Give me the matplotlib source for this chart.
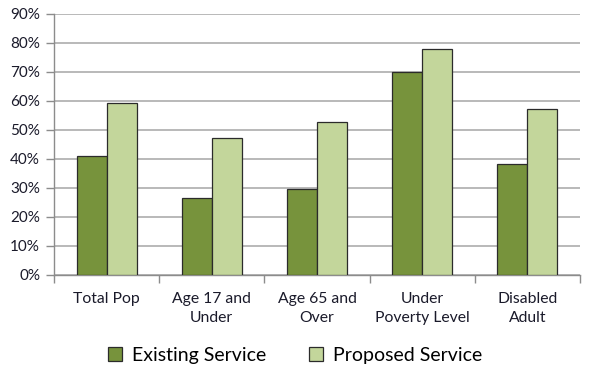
import matplotlib
matplotlib.use("Agg")
import matplotlib.pyplot as plt
import numpy as np
from matplotlib.ticker import FuncFormatter, FixedLocator

categories = ["Total Pop", "Age 17 and\nUnder", "Age 65 and\nOver", "Under\nPoverty Level", "Disabled\nAdult"]
existing = [41.1, 26.6, 29.7, 69.9, 38.3]
proposed = [59.4, 47.2, 52.7, 78.0, 57.2]
series_names = ["Existing Service", "Proposed Service"]

plt.rcParams['font.family'] = ['Lato', 'DejaVu Sans']

fig = plt.figure(figsize=(5.9, 3.75), dpi=100)
ax = fig.add_axes([0.0915, 0.2667, 0.8915, 0.6968])

x = np.arange(len(categories))
w = 0.285
ax.bar(x - w/2, existing, w, color="#77933C", edgecolor="#2b2b2b", linewidth=0.9,
       label=series_names[0], zorder=3)
ax.bar(x + w/2, proposed, w, color="#C3D69B", edgecolor="#2b2b2b", linewidth=0.9,
       label=series_names[1], zorder=3)

ax.set_xlim(-0.5, len(categories) - 0.5)
ax.set_ylim(0, 90)
ax.set_yticks(np.arange(0, 91, 10))
ax.yaxis.set_major_formatter(FuncFormatter(lambda v, p: f"{int(v)}%"))
ax.grid(axis='y', color="#a6a6a6", linewidth=1.1, zorder=0)
ax.set_axisbelow(True)

ax.set_xticks(x)
ax.set_xticklabels(categories, fontsize=11.3, color="#1a1a2a", linespacing=1.45)
ax.xaxis.set_minor_locator(FixedLocator(np.arange(-0.5, len(categories), 1)))
ax.tick_params(axis='x', which='major', length=0, pad=12)
ax.tick_params(axis='x', which='minor', length=6, color="#8c8c8c", width=1)
ax.tick_params(axis='y', length=6, color="#8c8c8c", width=1, labelsize=11,
               labelcolor="#1a1a2a", pad=4)

for s in ['top', 'right']:
    ax.spines[s].set_visible(False)
for s in ['left', 'bottom']:
    ax.spines[s].set_color("#8c8c8c")
    ax.spines[s].set_linewidth(1)

fig.legend(loc='center', bbox_to_anchor=(0.5, 0.052), ncol=2, frameon=False,
           fontsize=14, handlelength=0.75, handleheight=0.75, handletextpad=0.5,
           columnspacing=2.2)

fig.savefig("out.png", dpi=100)
